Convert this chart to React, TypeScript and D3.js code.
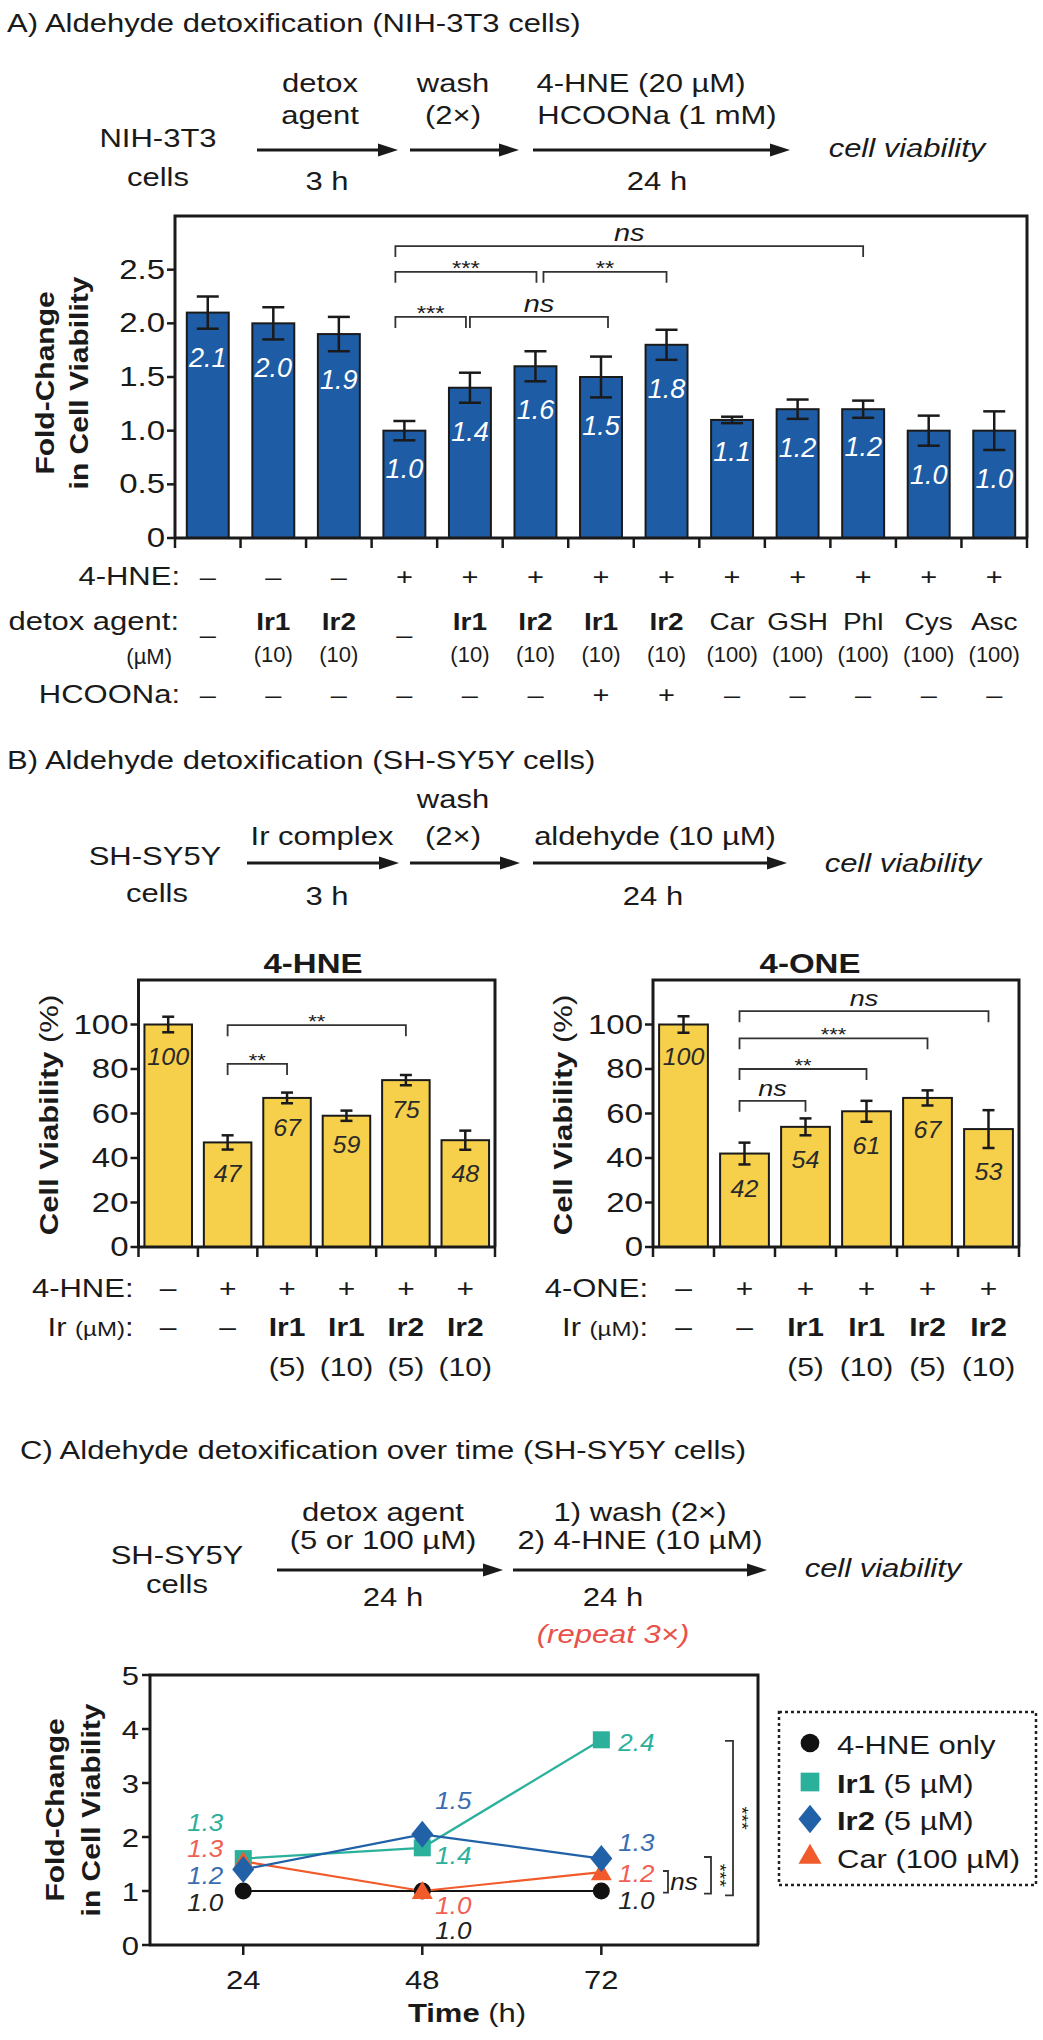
import React from 'react';
import * as d3 from 'd3';

const FONT = '"Liberation Sans", Arial, Helvetica, sans-serif';
const BAR_BLUE = '#1e5da5';
const YELLOW = '#f7d04b';
const TEAL = '#2bb09c';
const IR2_BLUE = '#2161a8';
const RED = '#f15a2b';
const INK = '#1a1a1a';
// the source figure's lettering is a little wider than plain Arial
const SX = 1.18;

// ---- Panel A: NIH-3T3 fold change ----
const aValues = [2.1, 2.0, 1.9, 1.0, 1.4, 1.6, 1.5, 1.8, 1.1, 1.2, 1.2, 1.0, 1.0];
const aErrors = [0.15, 0.15, 0.16, 0.09, 0.14, 0.14, 0.19, 0.14, 0.03, 0.09, 0.08, 0.14, 0.18];
const aHNE = ['–', '–', '–', '+', '+', '+', '+', '+', '+', '+', '+', '+', '+'];
const aAgents = ['–', 'Ir1', 'Ir2', '–', 'Ir1', 'Ir2', 'Ir1', 'Ir2', 'Car', 'GSH', 'Phl', 'Cys', 'Asc'];
const aDoses = ['', '(10)', '(10)', '', '(10)', '(10)', '(10)', '(10)', '(100)', '(100)', '(100)', '(100)', '(100)'];
const aFormate = ['–', '–', '–', '–', '–', '–', '+', '+', '–', '–', '–', '–', '–'];
const aTicks = [0, 0.5, 1.0, 1.5, 2.0, 2.5];
const aSig = [
  { from: 3, to: 10, level: 2.72, text: 'ns' },
  { from: 3, to: 5, level: 2.48, text: '***' },
  { from: 5, to: 7, level: 2.48, text: '**' },
  { from: 3, to: 4, level: 2.06, text: '***' },
  { from: 4, to: 6, level: 2.06, text: 'ns' },
];

// ---- Panel B: SH-SY5Y viability ----
const hneValues = [100, 47, 67, 59, 75, 48];
const hneErrors = [3.5, 3.2, 2.4, 2.3, 2.3, 4.3];
const oneValues = [100, 42, 54, 61, 67, 53];
const oneErrors = [3.7, 4.9, 3.8, 4.7, 3.4, 8.5];
const bAldehyde = ['–', '+', '+', '+', '+', '+'];
const bIr = ['–', '–', 'Ir1', 'Ir1', 'Ir2', 'Ir2'];
const bDoses = ['', '', '(5)', '(10)', '(5)', '(10)'];
const bTicks = [0, 20, 40, 60, 80, 100];
const hneSig = [
  { from: 1, to: 4, level: 99.7, text: '**' },
  { from: 1, to: 2, level: 82.3, text: '**' },
];
const oneSig = [
  { from: 1, to: 5, level: 106, text: 'ns' },
  { from: 1, to: 4, level: 93.8, text: '***' },
  { from: 1, to: 3, level: 80, text: '**' },
  { from: 1, to: 2, level: 65.7, text: 'ns' },
];

// ---- Panel C: over time ----
const timePoints = [24, 48, 72];
const hneOnly = [1.0, 1.0, 1.0];
const ir1Series = [1.6, 1.8, 3.8];
const ir2Series = [1.4, 2.05, 1.6];
const carSeries = [1.55, 1.0, 1.35];
const hneOnlyLabels = ['1.0', '1.0', '1.0'];
const ir1Labels = ['1.3', '1.4', '2.4'];
const ir2Labels = ['1.2', '1.5', '1.3'];
const carLabels = ['1.3', '1.0', '1.2'];
const cTicks = [0, 1, 2, 3, 4, 5];
const cSig = [
  { top: 1.37, bottom: 0.97, text: 'ns' },
  { top: 1.63, bottom: 0.95, text: '***' },
  { top: 3.78, bottom: 0.92, text: '***' },
];

function T({ x, y, children, size = 31, anchor = 'middle', weight = 'normal', italic = false, fill = INK, sx = SX, rotate = 0 }: any) {
  return (
    <text transform={`translate(${x},${y}) rotate(${rotate}) scale(${sx},1)`} fontSize={size / sx} textAnchor={anchor}
      fontWeight={weight} fontStyle={italic ? 'italic' : 'normal'} fill={fill}>
      {children}
    </text>
  );
}

function Arrow({ x1, x2, y }: any) {
  return (
    <g>
      <line x1={x1} x2={x2 - 16} y1={y} y2={y} stroke={INK} strokeWidth={2.8} />
      <path d={`M${x2},${y}L${x2 - 20},${y - 6.5}L${x2 - 20},${y + 6.5}Z`} fill={INK} />
    </g>
  );
}

function Bracket({ x1, x2, y, leg = 11 }: any) {
  return <path d={`M${x1},${y + leg}V${y}H${x2}V${y + leg}`} fill="none" stroke="#333" strokeWidth={1.8} />;
}

function BarPanel({ values, errors, x, y, fill, capW, labelFill, labelSize, labelGap, labelDy, labelSx, ticks, tickFmt, tickSize, sig, sigSize, legShift }: any) {
  const [x0, x1] = x.range();
  const [y0, y1] = y.range();
  const edges = d3.range(values.length + 1).map((i) => x0 + (x1 - x0) * (i / values.length));
  const cx = (i: number) => x(i) + x.bandwidth() / 2;
  return (
    <g>
      {values.map((v: number, i: number) => (
        <rect key={'b' + i} x={x(i)} y={y(v)} width={x.bandwidth()} height={y(0) - y(v)}
          fill={fill} stroke={INK} strokeWidth={2} />
      ))}
      {values.map((v: number, i: number) => {
        const e = errors[i];
        return (
          <g key={'e' + i} stroke={INK} strokeWidth={2.5}>
            <line x1={cx(i)} x2={cx(i)} y1={y(v + e)} y2={y(v - e)} />
            <line x1={cx(i) - capW / 2} x2={cx(i) + capW / 2} y1={y(v + e)} y2={y(v + e)} />
            <line x1={cx(i) - capW / 2} x2={cx(i) + capW / 2} y1={y(v - e)} y2={y(v - e)} />
          </g>
        );
      })}
      {values.map((v: number, i: number) => (
        <T key={'l' + i} x={cx(i)} y={y(v - errors[i] - labelGap) + labelDy} sx={labelSx}
          size={labelSize} italic fill={labelFill}>{labelFill === '#fff' ? v.toFixed(1) : String(v)}</T>
      ))}
      <path d={`M${x0},${y0}V${y1}H${x1}V${y0}`} fill="none" stroke={INK} strokeWidth={3} />
      <line x1={x0 - 1} x2={x1 + 1} y1={y0} y2={y0} stroke={INK} strokeWidth={3} />
      {edges.map((ex: number, i: number) => (
        <line key={'xt' + i} x1={ex} x2={ex} y1={y0} y2={y0 + 10} stroke={INK} strokeWidth={2.5} />
      ))}
      {ticks.map((t: number) => (
        <g key={'yt' + t}>
          <line x1={x0 - 8} x2={x0} y1={y(t)} y2={y(t)} stroke={INK} strokeWidth={2.5} />
          <T x={x0 - 10} y={y(t) + 9} anchor="end" size={tickSize}>{tickFmt(t)}</T>
        </g>
      ))}
      {sig.map((s: any, i: number) => {
        const [da, db] = legShift ? legShift[i] : [0, 0];
        const a = cx(s.from) + da;
        const b = cx(s.to) + db;
        const by = y(s.level);
        return (
          <g key={'s' + i}>
            <Bracket x1={a} x2={b} y={by} />
            {s.text === 'ns'
              ? <T x={(a + b) / 2} y={by - 5} size={sigSize + 5} italic>ns</T>
              : <T x={(a + b) / 2} y={by + 3} size={sigSize}>{s.text}</T>}
          </g>
        );
      })}
    </g>
  );
}

function Marker({ kind, x, y, s = 1 }: any) {
  if (kind === 'circle') return <circle cx={x} cy={y} r={8.5 * s} fill="#111" />;
  if (kind === 'square') return <rect x={x - 8.5 * s} y={y - 8.5 * s} width={17 * s} height={17 * s} fill={TEAL} />;
  if (kind === 'diamond') {
    const w = 11 * s, h = 13.5 * s;
    return <path d={`M${x},${y - h}L${x + w},${y}L${x},${y + h}L${x - w},${y}Z`} fill={IR2_BLUE} />;
  }
  const tri = d3.symbol().type(d3.symbolTriangle).size(190 * s * s)();
  return <path d={tri as string} transform={`translate(${x},${y + 2})`} fill={RED} />;
}

export default function App() {
  // Panel A scales
  const xA = d3.scaleBand<number>().domain(d3.range(aValues.length)).range([175, 1027]).paddingInner(0.36).paddingOuter(0.18);
  const yA = d3.scaleLinear().domain([0, 3]).range([538, 216]);
  const acx = (i: number) => (xA(i) as number) + xA.bandwidth() / 2;

  // Panel B scales
  const xB1 = d3.scaleBand<number>().domain(d3.range(6)).range([138.5, 495]).paddingInner(0.2).paddingOuter(0.1);
  const xB2 = d3.scaleBand<number>().domain(d3.range(6)).range([653, 1019]).paddingInner(0.2).paddingOuter(0.1);
  const yB = d3.scaleLinear().domain([0, 120]).range([1247, 980]);

  // Panel C scales
  const xC = d3.scaleLinear().domain([11.5, 93]).range([150, 758]);
  const yC = d3.scaleLinear().domain([0, 5]).range([1945, 1675]);
  const line = d3.line<number>().x((_, i) => xC(timePoints[i])).y((d) => yC(d));

  const series = [
    { key: 'hne', values: hneOnly, labels: hneOnlyLabels, color: '#111', marker: 'circle', labelColor: '#222' },
    { key: 'ir1', values: ir1Series, labels: ir1Labels, color: TEAL, marker: 'square', labelColor: TEAL },
    { key: 'car', values: carSeries, labels: carLabels, color: RED, marker: 'triangle', labelColor: '#ef5f55' },
    { key: 'ir2', values: ir2Series, labels: ir2Labels, color: IR2_BLUE, marker: 'diamond', labelColor: '#3a6db0' },
  ];
  const labelDx = [-38, 31, 35];
  const labelDy: Record<string, number[]> = { hne: [11, 39, 9], ir1: [-37, 7, 2], ir2: [6, -34, -17], car: [-13, 14, 1] };

  const bRows = (xs: any, aldehyde: string) => (
    <g>
      {bAldehyde.map((s, i) => (
        <T key={'ba' + i} x={(xs(i) as number) + xs.bandwidth() / 2} y={1297} size={30}>{s}</T>
      ))}
      {bIr.map((s, i) => (
        <T key={'bi' + i} x={(xs(i) as number) + xs.bandwidth() / 2} y={1336} size={30} weight={s === '–' ? 'normal' : 'bold'}>{s}</T>
      ))}
      {bDoses.map((s, i) => (
        <T key={'bd' + i} x={(xs(i) as number) + xs.bandwidth() / 2} y={1376} size={30}>{s}</T>
      ))}
      <T x={xs.range()[0] - 5} y={1297} anchor="end" size={31}>{aldehyde}:</T>
      <T x={xs.range()[0] - 5} y={1336} anchor="end" size={31}>Ir <tspan fontSize={24 / SX}>(µM)</tspan>:</T>
    </g>
  );

  return (
    <svg width={1043} height={2040} viewBox="0 0 1043 2040"
      style={{ position: 'absolute', left: 0, top: 0, background: '#fff' }} fontFamily={FONT}>
      <rect width={1043} height={2040} fill="#fff" />

      {/* ===== Panel A ===== */}
      <T x={7} y={32} anchor="start">A) Aldehyde detoxification (NIH-3T3 cells)</T>
      <T x={320} y={92}>detox</T>
      <T x={320} y={124}>agent</T>
      <T x={453} y={92}>wash</T>
      <T x={453} y={124}>(2×)</T>
      <T x={641} y={92}>4-HNE (20 µM)</T>
      <T x={657} y={124}>HCOONa (1 mM)</T>
      <T x={158} y={147}>NIH-3T3</T>
      <T x={158} y={186}>cells</T>
      <Arrow x1={257} x2={398} y={150} />
      <Arrow x1={410} x2={519} y={150} />
      <Arrow x1={533} x2={790} y={150} />
      <T x={327} y={190}>3 h</T>
      <T x={657} y={190}>24 h</T>
      <T x={907} y={157} italic>cell viability</T>

      <BarPanel values={aValues} errors={aErrors} x={xA} y={yA} fill={BAR_BLUE} capW={22}
        labelFill="#fff" labelSize={27} labelSx={1} labelGap={0} labelDy={38} ticks={aTicks}
        tickFmt={(t: number) => (t === 0 ? '0' : t.toFixed(1))} tickSize={33} sig={aSig} sigSize={24}
        legShift={[[-9, 0], [-9, 1], [8, 0], [-9, -4], [0, 7]]} />
      <T x={54} y={383} size={30} weight="bold" rotate={-90}>Fold-Change</T>
      <T x={88} y={383} size={30} weight="bold" rotate={-90}>in Cell Viability</T>

      <T x={180} y={585} anchor="end">4-HNE:</T>
      {aHNE.map((s, i) => <T key={'ah' + i} x={acx(i)} y={585} size={29}>{s}</T>)}
      <T x={179} y={630} anchor="end">detox agent:</T>
      {aAgents.map((s, i) => (
        <T key={'aa' + i} x={acx(i)} y={s === '–' ? 643 : 630} size={s === '–' ? 29 : 28}
          weight={s.startsWith('Ir') ? 'bold' : 'normal'}>{s}</T>
      ))}
      <T x={172} y={664} anchor="end" size={22} sx={1}>(µM)</T>
      {aDoses.map((s, i) => <T key={'ad' + i} x={acx(i)} y={662} size={22} sx={0.98}>{s}</T>)}
      <T x={180} y={703} anchor="end">HCOONa:</T>
      {aFormate.map((s, i) => <T key={'af' + i} x={acx(i)} y={703} size={29}>{s}</T>)}

      {/* ===== Panel B ===== */}
      <T x={7} y={769} anchor="start">B) Aldehyde detoxification (SH-SY5Y cells)</T>
      <T x={453} y={808}>wash</T>
      <T x={322} y={845}>Ir complex</T>
      <T x={453} y={845}>(2×)</T>
      <T x={655} y={845}>aldehyde (10 µM)</T>
      <T x={155} y={865}>SH-SY5Y</T>
      <T x={157} y={902}>cells</T>
      <Arrow x1={247} x2={399} y={863} />
      <Arrow x1={410} x2={520} y={863} />
      <Arrow x1={533} x2={787} y={863} />
      <T x={903} y={872} italic>cell viability</T>
      <T x={327} y={905}>3 h</T>
      <T x={653} y={905}>24 h</T>

      <T x={313} y={973} size={33} weight="bold">4-HNE</T>
      <T x={810} y={973} size={33} weight="bold">4-ONE</T>

      <BarPanel values={hneValues} errors={hneErrors} x={xB1} y={yB} fill={YELLOW} capW={12}
        labelFill="#2a2a2a" labelSize={25} labelSx={1.05} labelGap={10.5} labelDy={9} ticks={bTicks}
        tickFmt={(t: number) => String(t)} tickSize={33} sig={hneSig} sigSize={22} />
      <BarPanel values={oneValues} errors={oneErrors} x={xB2} y={yB} fill={YELLOW} capW={12}
        labelFill="#2a2a2a" labelSize={25} labelSx={1.05} labelGap={10.5} labelDy={9} ticks={bTicks}
        tickFmt={(t: number) => String(t)} tickSize={33} sig={oneSig} sigSize={22}
        legShift={[[-5, 0], [-5, 0], [-5, 0], [-5, 0]]} />
      <T x={58} y={1115} size={31} rotate={-90}><tspan fontWeight="bold">Cell Viability</tspan> (%)</T>
      <T x={572} y={1115} size={31} rotate={-90}><tspan fontWeight="bold">Cell Viability</tspan> (%)</T>
      {bRows(xB1, '4-HNE')}
      {bRows(xB2, '4-ONE')}

      {/* ===== Panel C ===== */}
      <T x={20} y={1459} anchor="start">C) Aldehyde detoxification over time (SH-SY5Y cells)</T>
      <T x={383} y={1521}>detox agent</T>
      <T x={383} y={1549}>(5 or 100 µM)</T>
      <T x={640} y={1521}>1) wash (2×)</T>
      <T x={640} y={1549}>2) 4-HNE (10 µM)</T>
      <T x={177} y={1564}>SH-SY5Y</T>
      <T x={177} y={1593}>cells</T>
      <Arrow x1={277} x2={503} y={1570} />
      <Arrow x1={513} x2={767} y={1570} />
      <T x={883} y={1577} italic>cell viability</T>
      <T x={393} y={1606}>24 h</T>
      <T x={613} y={1606}>24 h</T>
      <T x={613} y={1643} italic fill="#e8524a">(repeat 3×)</T>

      <path d={`M${xC.range()[0]},${yC(0)}V${yC(5)}H${xC.range()[1]}V${yC(0)}`} fill="none" stroke={INK} strokeWidth={3} />
      <line x1={xC.range()[0] - 1} x2={xC.range()[1] + 1} y1={yC(0)} y2={yC(0)} stroke={INK} strokeWidth={3} />
      {cTicks.map((t) => (
        <g key={'ct' + t}>
          <line x1={142} x2={150} y1={yC(t)} y2={yC(t)} stroke={INK} strokeWidth={2.5} />
          <T x={139} y={yC(t) + 10} anchor="end" size={31}>{t}</T>
        </g>
      ))}
      {timePoints.map((t) => (
        <g key={'cx' + t}>
          <line x1={xC(t)} x2={xC(t)} y1={yC(0)} y2={yC(0) + 10} stroke={INK} strokeWidth={2.5} />
          <T x={xC(t)} y={1989} size={31}>{t}</T>
        </g>
      ))}
      <T x={467} y={2022} size={31}><tspan fontWeight="bold">Time</tspan> (h)</T>
      <T x={64} y={1810} size={30} weight="bold" rotate={-90}>Fold-Change</T>
      <T x={100} y={1810} size={30} weight="bold" rotate={-90}>in Cell Viability</T>

      {series.map((s) => (
        <path key={'ln' + s.key} d={line(s.values) as string} fill="none" stroke={s.color} strokeWidth={2.2} />
      ))}
      {series.map((s) => s.values.map((v, i) => (
        <Marker key={s.key + i} kind={s.marker} x={xC(timePoints[i])} y={yC(v)} />
      )))}
      {series.map((s) => s.labels.map((lab, i) => (
        <T key={'lb' + s.key + i} x={xC(timePoints[i]) + labelDx[i]} y={yC(s.values[i]) + labelDy[s.key][i] + 9}
          size={26} sx={1.05} italic fill={s.labelColor}>{lab}</T>
      )))}

      {cSig.map((s, i) => {
        const bx = [668, 711, 733][i];
        const tick = [5, 7, 8][i];
        const y1 = yC(s.top), y2 = yC(s.bottom);
        return (
          <g key={'cs' + i}>
            <path d={`M${bx - tick},${y1}H${bx}V${y2}H${bx - tick}`} fill="none" stroke="#333" strokeWidth={1.8} />
            {s.text === 'ns'
              ? <T x={bx + 16} y={(y1 + y2) / 2 + 8} size={26} sx={1.05} italic>ns</T>
              : <T x={bx + 3} y={(y1 + y2) / 2} size={20} rotate={90}>{s.text}</T>}
          </g>
        );
      })}

      <rect x={779} y={1712} width={257} height={173} fill="none" stroke="#222" strokeWidth={2.5} strokeDasharray="3,3" />
      <Marker kind="circle" x={810} y={1743} s={1.1} />
      <T x={837} y={1754} anchor="start">4-HNE only</T>
      <Marker kind="square" x={810} y={1782} s={1.1} />
      <T x={837} y={1793} anchor="start"><tspan fontWeight="bold">Ir1</tspan> (5 µM)</T>
      <Marker kind="diamond" x={810} y={1819} s={1.05} />
      <T x={837} y={1830} anchor="start"><tspan fontWeight="bold">Ir2</tspan> (5 µM)</T>
      <Marker kind="triangle" x={810} y={1855} s={1.1} />
      <T x={837} y={1868} anchor="start">Car (100 µM)</T>
    </svg>
  );
}
